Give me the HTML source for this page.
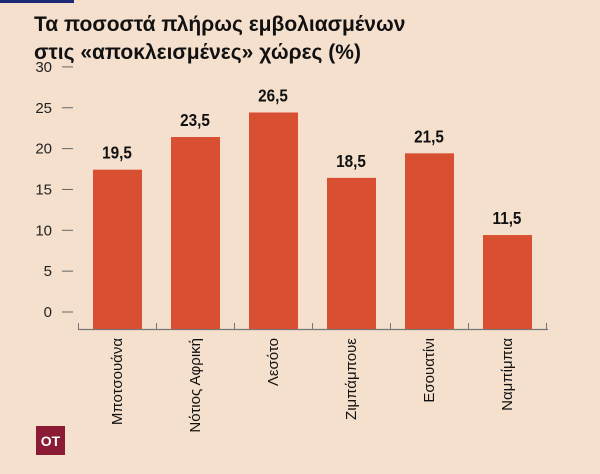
<!DOCTYPE html>
<html><head><meta charset="utf-8">
<style>
body{margin:0;background:#f4e0cd;}
svg{display:block;font-family:"Liberation Sans","DejaVu Sans",sans-serif;}
</style></head>
<body>
<svg width="600" height="474" viewBox="0 0 600 474">
<rect x="0" y="0" width="600" height="474" fill="#f4e0cd"/>
<rect x="0" y="0" width="74" height="3" fill="#1e2a78"/>
<text x="34" y="31" font-size="21" font-weight="bold" fill="#111">Τα ποσοστά πλήρως εμβολιασμένων</text>
<text x="34" y="59" font-size="21" font-weight="bold" fill="#111">στις «αποκλεισμένες» χώρες (%)</text>
<g id="axes"></g>
<g id="bars"></g>
<rect x="36" y="426" width="29" height="29" fill="#8b1a35"/>
<text x="50.5" y="446" font-size="14" font-weight="bold" fill="#fff" text-anchor="middle">OT</text>
</svg>
<script>
const categories=["Μποτσουάνα","Νότιος Αφρική","Λεσότο","Ζιμπάμπουε","Εσουατίνι","Ναμπίμπια"];
const values=[19.5,23.5,26.5,18.5,21.5,11.5];
const valueLabels=["19,5","23,5","26,5","18,5","21,5","11,5"];
const yTicks=[0,5,10,15,20,25,30];
const NS="http://www.w3.org/2000/svg";
const base=329,k=8.17,x0=78,band=78,bw=49,tickOff=17;
function y(v){return base-v*k;}
function x(i){return x0+i*band;}
function mk(t,a,p){const e=document.createElementNS(NS,t);for(const n in a)e.setAttribute(n,a[n]);p.appendChild(e);return e;}
const ax=document.getElementById('axes'),bg=document.getElementById('bars');
yTicks.forEach(t=>{
 const yy=y(t)-tickOff;
 const tx=mk('text',{x:52,y:yy+5,'font-size':15,fill:'#222','text-anchor':'end'},ax);
 tx.textContent=t;
 
 
 const ln=mk('line',{x1:62,x2:73,y1:yy,y2:yy,stroke:'#666','stroke-width':1},ax);
 
 
});
const axl=mk('line',{x1:x(0),x2:x(categories.length)+2,y1:base+0.5,y2:base+0.5,stroke:'#777','stroke-width':1.2},ax);


for(let i=0;i<=categories.length;i++){
 const tk=mk('line',{x1:x(i)+0.5,x2:x(i)+0.5,y1:base-6,y2:base,stroke:'#777','stroke-width':1},ax);
 
 
}
categories.forEach((c,i)=>{
 const cx=x(i)+band/2;
 const r=mk('rect',{x:cx-bw/2+0.5,y:y(values[i]),width:bw,height:base-y(values[i]),fill:'#d84f31'},bg);
 
 
 const vl=mk('text',{x:cx,y:y(values[i])-11,'font-size':18,fill:'#111','text-anchor':'middle','font-weight':'bold',transform:`translate(${cx},0) scale(0.85,1) translate(${-cx},0)`},bg);
 vl.textContent=valueLabels[i];
 
 
 const cl=mk('text',{x:0,y:0,'font-size':15,fill:'#111','text-anchor':'end',transform:`translate(${cx+5},${base+9}) rotate(-90)`},bg);
 cl.textContent=c;
 
 
});
</script>
</body></html>
